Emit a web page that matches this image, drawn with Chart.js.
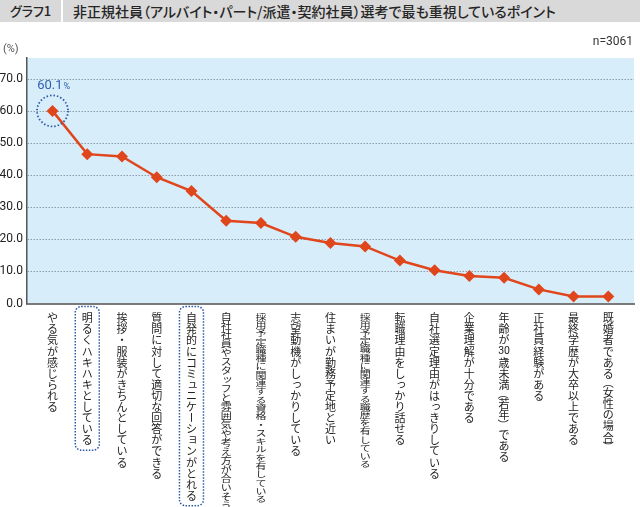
<!DOCTYPE html>
<html><head><meta charset="utf-8">
<script src="https://cdn.jsdelivr.net/npm/chart.js@4.4.1/dist/chart.umd.min.js"></script>
<style>
body{margin:0;background:#fff;}
#wrap{position:relative;width:640px;height:507px;overflow:hidden;font-family:"Noto Sans CJK JP",sans-serif;}
canvas{position:absolute;left:0;top:0;}
.bar{position:absolute;top:0;height:22px;background:#d9d9d9;color:#262626;font-size:13px;line-height:22px;font-weight:500;font-feature-settings:"palt";white-space:nowrap;}
#tag{left:0;width:61px;text-align:center;}
#ttl{left:63px;right:0;padding-left:10px;font-size:14px;}
.note{position:absolute;font-family:Roboto,"Noto Sans CJK JP",sans-serif;color:#333;white-space:nowrap;}
</style></head>
<body><div id="wrap">
<canvas id="c" width="640" height="507"></canvas>
<div class="bar" id="tag">グラフ1</div>
<div class="bar" id="ttl">非正規社員（アルバイト・パート/派遣・契約社員）選考で最も重視しているポイント</div>
<div class="note" style="right:7px;top:34px;font-size:12px;">n=3061</div>
<div class="note" style="left:3px;top:42px;font-size:11px;color:#555;">(%)</div>
</div>
<script>
const categories = [
  "やる気が感じられる",
  "明るくハキハキとしている",
  "挨拶・服装がきちんとしている",
  "質問に対して適切な回答ができる",
  "自発的にコミュニケーションがとれる",
  "自社社員やスタッフと雰囲気や考え方が合いそう",
  "採用予定職種に関連する資格・スキルを有している",
  "志望動機がしっかりしている",
  "住まいが勤務予定地と近い",
  "採用予定職種に関連する職歴を有している",
  "転職理由をしっかり話せる",
  "自社選定理由がはっきりしている",
  "企業理解が十分である",
  "年齢が30歳未満（若年）である",
  "正社員経験がある",
  "最終学歴が大卒以上である",
  "既婚者である（女性の場合）"
];
const values = [60.1, 46.6, 45.9, 39.4, 35.1, 25.8, 25.1, 20.8, 18.9, 17.8, 13.4, 10.4, 8.6, 8.0, 4.4, 2.2, 2.2];
const yTicks = [0, 10, 20, 30, 40, 50, 60, 70];
const boxedLabels = [1, 4];
const calloutIndex = 0;

const LINE = '#e0461b';
const BLUE = '#2d5aa8';
const condensedPitch = {5: 9.0, 6: 8.3, 9: 8.2};

function tokenize(s){
  const out=[]; let i=0;
  while(i<s.length){
    if(/[0-9]/.test(s[i])){ let j=i; while(j<s.length && /[0-9]/.test(s[j])) j++; out.push(s.slice(i,j)); i=j; }
    else { out.push(s[i]); i++; }
  }
  return out;
}
const ROT = 'ー（）()～－';
const BRACKET = '（）()';
const SMALL = 'ッャュョァィゥェォっゃゅょぁぃぅぇぉ';
const P = 11.1, FS = 11;
function drawVert(ctx, text, cx, top, pitch){
  const sy = Math.min(1, pitch/P);
  let y = top;
  ctx.textAlign='center'; ctx.textBaseline='middle';
  for(const t of tokenize(text)){
    const h = (BRACKET.includes(t)?0.75:1)*pitch;
    const cy = y + h/2;
    ctx.save();
    if(SMALL.includes(t)){ ctx.translate(cx+FS*0.12, cy-FS*0.12*sy); }
    else ctx.translate(cx, cy);
    ctx.scale(1, sy);
    if(ROT.includes(t)) ctx.rotate(Math.PI/2);
    if(/[0-9]/.test(t)){ ctx.font = (t.length>1?'10.5px':'11px')+' Roboto, "Noto Sans CJK JP"'; }
    else ctx.font = FS+'px "Noto Sans CJK JP"';
    ctx.fillText(t, 0, 0.5);
    ctx.restore();
    y += h;
  }
  return y;
}

const decor = {
  id:'decor',
  beforeDraw(chart){
    const {ctx, chartArea:a} = chart;
    ctx.save(); ctx.fillStyle='#d8edfa'; ctx.fillRect(a.left, a.top, a.right-a.left, a.bottom-a.top); ctx.restore();
  },
  afterDraw(chart){
    const {ctx} = chart;
    const xs = chart.scales.x, ys = chart.scales.y;
    ctx.save();
    ctx.fillStyle='#222';
    const top = 312;
    categories.forEach((lab,i)=>{
      const cx = xs.getPixelForValue(i);
      const pitch = condensedPitch[i] || P;
      const end = drawVert(ctx, lab, cx, top, pitch);
      if(boxedLabels.includes(i)){
        ctx.save();
        ctx.strokeStyle=BLUE; ctx.lineWidth=1.5; ctx.setLineDash([1.5,1.5]);
        ctx.beginPath(); ctx.roundRect(cx-12, 306.5, 24, end-306.5+5, 6); ctx.stroke();
        ctx.restore();
      }
    });
    // callout
    const px = xs.getPixelForValue(calloutIndex), py = ys.getPixelForValue(values[calloutIndex]);
    ctx.strokeStyle=BLUE; ctx.lineWidth=1.8; ctx.setLineDash([1.5,2]);
    ctx.beginPath(); ctx.arc(px, py, 15.5, 0, Math.PI*2); ctx.stroke();
    ctx.setLineDash([]);
    ctx.fillStyle='#2e62b0'; ctx.textAlign='right'; ctx.textBaseline='alphabetic';
    ctx.font='13px Roboto, sans-serif';
    ctx.fillText(values[calloutIndex].toFixed(1), px+10, 89);
    ctx.textAlign='left'; ctx.font='9px Roboto, sans-serif';
    ctx.fillText('%', px+11, 89);
    ctx.restore();
  }
};

new Chart(document.getElementById('c'), {
  type:'line',
  data:{ datasets:[{
    data: values.map((v,i)=>({x:i, y:v})),
    borderColor: LINE, backgroundColor: LINE, borderWidth: 2.5,
    pointStyle:'rectRot', pointRadius:6, pointHoverRadius:6,
    pointBackgroundColor: LINE, pointBorderColor: LINE, pointBorderWidth:0,
    tension:0, clip:false
  }]},
  options:{
    responsive:false, animation:false, devicePixelRatio:1,
    layout:{padding:{top:58,left:0,right:0,bottom:0}},
    plugins:{legend:{display:false}, tooltip:{enabled:false}},
    scales:{
      x:{ type:'linear', min:-0.735, max:16.74,
          grid:{display:false}, ticks:{display:false},
          border:{display:true, color:'#7a7a7a', width:2},
          afterFit(s){ s.height = 203.5; } },
      y:{ min:0, max:76.6,
          afterBuildTicks(s){ s.ticks = yTicks.map(v=>({value:v})); },
          afterFit(s){ s.width = 27; },
          grid:{ drawTicks:false, color:(c)=> c.tick && c.tick.value===0 ? 'rgba(0,0,0,0)' : '#8d9daa', lineWidth:1 },
          border:{ display:true, color:'#555', width:1.5, dash:[1.5,1.5] },
          ticks:{ padding:4, color:'#222', font:{family:'Roboto', size:12}, callback:(v)=>Number(v).toFixed(1) } }
    }
  },
  plugins:[decor]
});
</script>
</body></html>
